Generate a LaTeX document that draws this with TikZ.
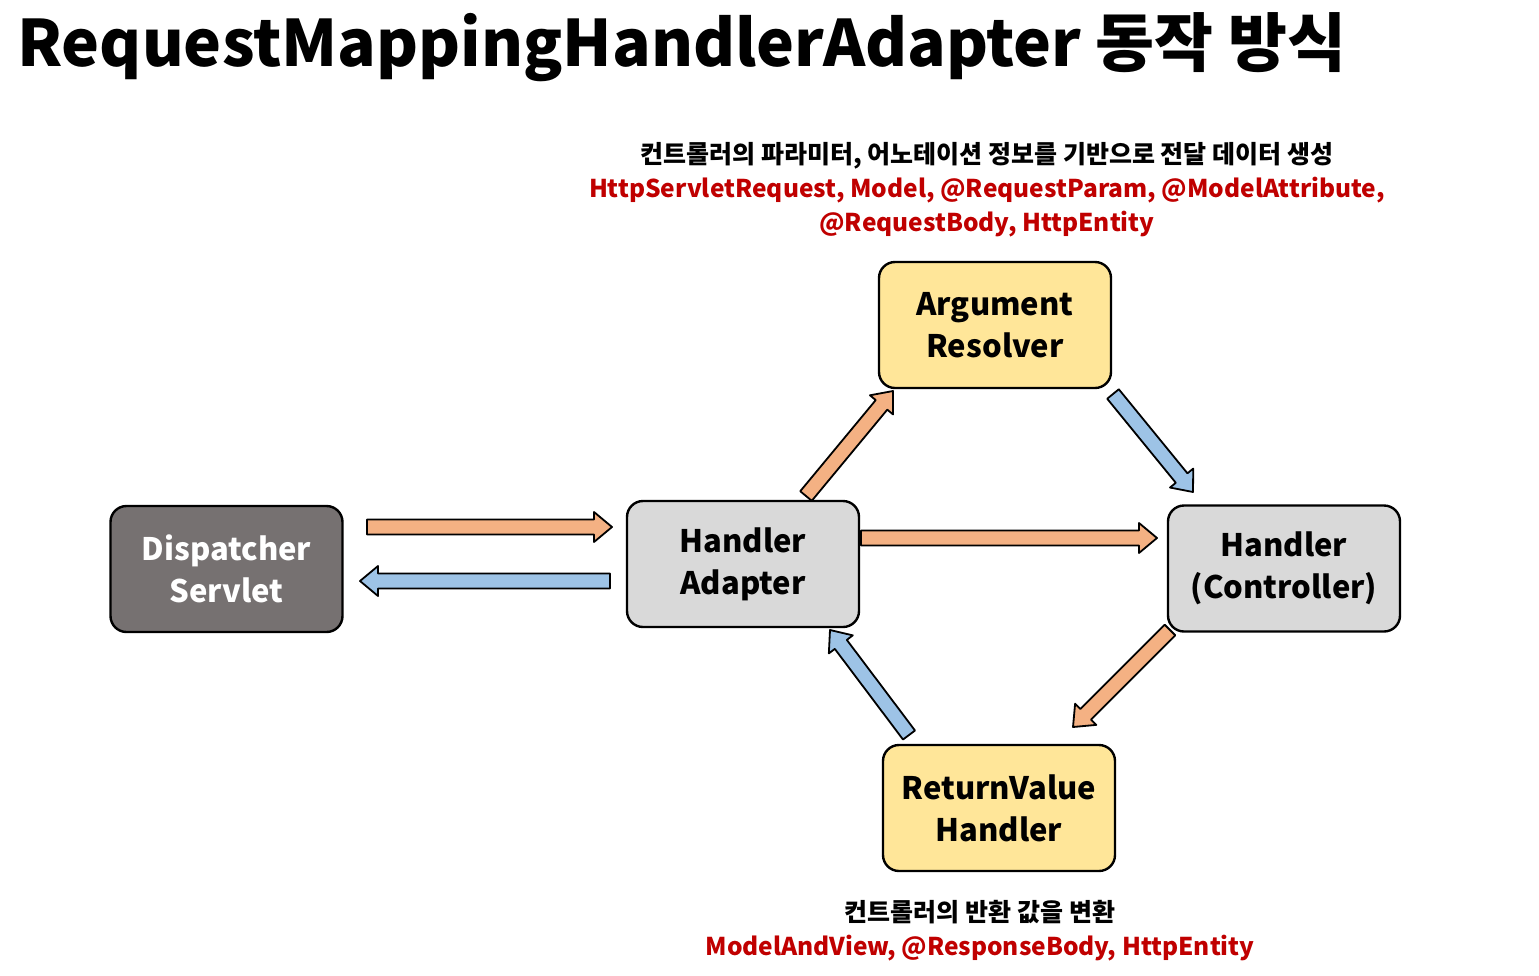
\documentclass[tikz,border=0pt]{standalone}
\usepackage{fontspec}
\setmainfont{Noto Sans CJK KR}
\usetikzlibrary{calc}
\definecolor{dsgray}{HTML}{767171}
\definecolor{lgray}{HTML}{D9D9D9}
\definecolor{yel}{HTML}{FFE699}
\definecolor{org}{HTML}{F4B183}
\definecolor{blu}{HTML}{9DC3E6}
\definecolor{rd}{HTML}{C00000}
\newcommand{\barrow}[3]{%
  \coordinate (#1hb) at ($(#2)!18pt!(#1)$);
  \draw[arr, fill=#3] ($(#1)!7.5pt!90:(#2)$) -- ($(#1hb)!7.5pt!90:(#2)$) -- ($(#1hb)!15pt!90:(#2)$) -- (#2)
    -- ($(#1hb)!15pt!-90:(#2)$) -- ($(#1hb)!7.5pt!-90:(#2)$) -- ($(#1)!7.5pt!-90:(#2)$) -- cycle;}
\begin{document}
\begin{tikzpicture}[x=1pt,y=-1pt,
  box/.style={draw=black, line width=2.4pt, rounded corners=16pt, minimum width=232pt, minimum height=126pt,
    align=center, inner sep=0pt, font=\fontsize{31}{42}\selectfont\bfseries},
  arr/.style={draw=black, line width=1.8pt, line join=round},
  note/.style={align=center, font=\fontsize{24.5}{34}\selectfont\bfseries},
  kr/.style={font=\fontsize{25}{34}\selectfont\bfseries}]
\useasboundingbox[fill=white] (0,0) rectangle (1539,975);
\node[anchor=west, inner sep=0pt, font=\fontsize{64}{74}\selectfont\bfseries] (title) at (17,47) {RequestMappingHandlerAdapter 동작 방식};
\node[box, fill=dsgray, text=white] (ds) at (226.5,569) {Dispatcher\\Servlet};
\node[box, fill=lgray] (ha) at (743,564) {Handler\\Adapter};
\node[box, fill=lgray] (hc) at (1284,568.5) {Handler\\(Controller)};
\node[box, fill=yel] (ar) at (995,325) {Argument\\Resolver};
\node[box, fill=yel] (rv) at (999,808) {ReturnValue\\Handler};
\node[note] (topnote) at (987,190) {{\fontsize{25}{34}\selectfont 컨트롤러의 파라미터, 어노테이션 정보를 기반으로 전달 데이터 생성}\\
  \textcolor{rd}{HttpServletRequest, Model, @RequestParam, @ModelAttribute,}\\
  \textcolor{rd}{@RequestBody, HttpEntity}};
\node[note] (botnote) at (980,931) {{\fontsize{25}{34}\selectfont 컨트롤러의 반환 값을 변환}\\
  \textcolor{rd}{ModelAndView, @ResponseBody, HttpEntity}};
\coordinate (s1) at (367,527); \coordinate (e1) at (612,527);
\coordinate (s2) at (610,581); \coordinate (e2) at (360,581);
\coordinate (s3) at (861,538); \coordinate (e3) at (1157,538);
\coordinate (s4) at (806,496); \coordinate (e4) at (893,391);
\coordinate (s5) at (1113,394); \coordinate (e5) at (1193,492);
\coordinate (s6) at (1170,630); \coordinate (e6) at (1073,727);
\coordinate (s7) at (909,735); \coordinate (e7) at (830,630);
\barrow{s1}{e1}{org}
\barrow{s2}{e2}{blu}
\barrow{s3}{e3}{org}
\barrow{s4}{e4}{org}
\barrow{s5}{e5}{blu}
\barrow{s6}{e6}{org}
\barrow{s7}{e7}{blu}
\end{tikzpicture}
\end{document}
